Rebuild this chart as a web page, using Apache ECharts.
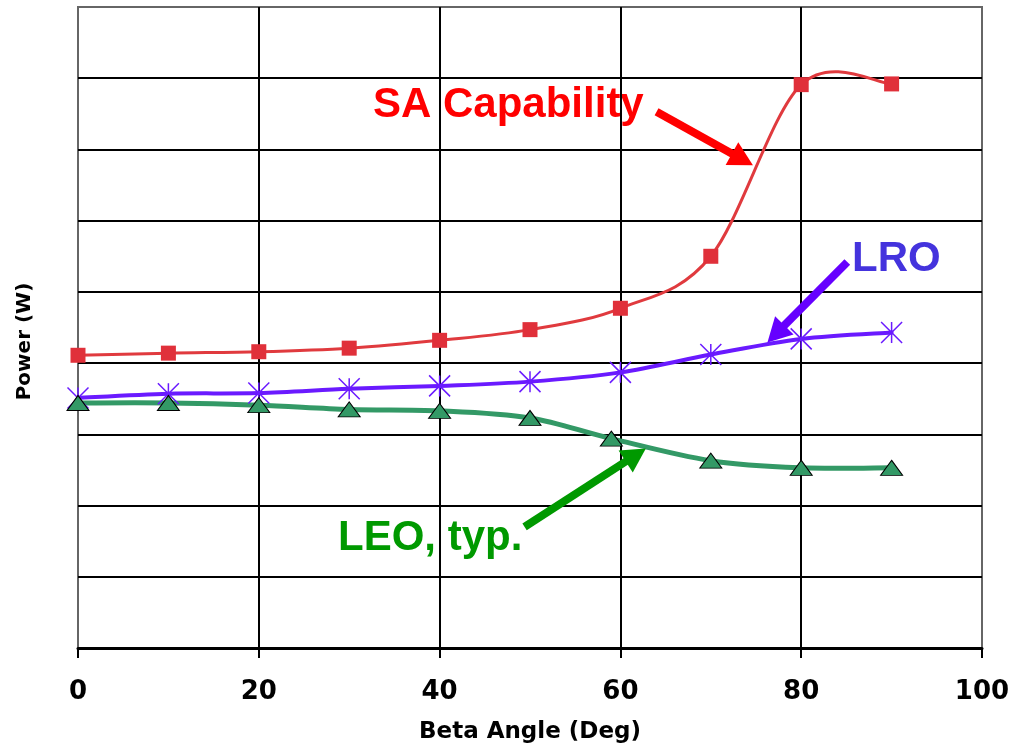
<!DOCTYPE html>
<html>
<head>
<meta charset="utf-8">
<title>Power vs Beta Angle</title>
<script src="https://cdn.jsdelivr.net/npm/echarts@6/dist/echarts.min.js"></script>
<style>
  html, body { margin: 0; padding: 0; background: #fff; }
  #chart { width: 1015px; height: 746px; }
</style>
</head>
<body>
<div id="chart"></div>
<script>
// Beta angle samples (deg)
const betaAngles = [0, 10, 20, 30, 40, 50, 60, 70, 80, 90];
const leoAngles  = [0, 10, 20, 30, 40, 50, 59, 70, 80, 90];

// Power values (W)
const saCapability = [411, 414, 416, 421, 432, 447, 477, 550, 791, 792];
const lroPower     = [351, 357, 358, 364, 368, 374, 387, 412, 434, 443];
const leoPower     = [344, 344, 341, 335, 333, 323, 294, 263, 253, 253];

// X axis tick values
const xTicks = [0, 20, 40, 60, 80, 100];

// Callout arrows: [start, end] in data units (deg, W)
const saArrow  = [[64.0, 753], [73.5, 686]];
const lroArrow = [[85.1, 542], [77.2, 441]];
const leoArrow = [[49.4, 170], [61.7, 271]];

const pairs = (xs, ys) => xs.map((x, i) => [x, ys[i]]);

// Smoothed connecting line: cardinal (Catmull-Rom) Bezier segments in pixel space,
// one segment per data item, positions taken from the axes via api.coord.
function smoothLine(xs, ys, color, width, z) {
  return {
    type: 'custom',
    silent: true,
    z: z,
    data: pairs(xs, ys),
    encode: { x: 0, y: 1 },
    renderItem: function (params, api) {
      const i = params.dataIndex;
      const n = xs.length;
      if (i >= n - 1) return null;
      const p = k => api.coord([xs[Math.max(0, Math.min(n - 1, k))], ys[Math.max(0, Math.min(n - 1, k))]]);
      const p0 = p(i - 1), p1 = p(i), p2 = p(i + 1), p3 = p(i + 2);
      return {
        type: 'bezierCurve',
        shape: {
          x1: p1[0], y1: p1[1],
          cpx1: p1[0] + (p2[0] - p0[0]) / 6, cpy1: p1[1] + (p2[1] - p0[1]) / 6,
          cpx2: p2[0] - (p3[0] - p1[0]) / 6, cpy2: p2[1] - (p3[1] - p1[1]) / 6,
          x2: p2[0], y2: p2[1]
        },
        style: { stroke: color, lineWidth: width, fill: null, lineCap: 'round' }
      };
    }
  };
}

const arrowLine = (seg, color) => ({
  silent: true,
  symbol: ['none', 'triangle'],
  symbolSize: [26, 24],
  label: { show: false },
  lineStyle: { color: color, width: 8, type: 'solid' },
  emphasis: { disabled: true },
  data: [[
    { coord: seg[0], symbol: 'none' },
    { coord: seg[1], symbol: 'triangle', itemStyle: { color: color } }
  ]]
});

const calloutFont = 'bold 42px "Liberation Sans", Arial, sans-serif';

const chart = echarts.init(document.getElementById('chart'), null, { renderer: 'canvas' });

chart.setOption({
  animation: false,
  backgroundColor: '#ffffff',
  grid: {
    left: 78, right: 33, top: 7, bottom: 98,
    outerBoundsMode: 'none',
    show: true, borderColor: '#666666', borderWidth: 2,
    backgroundColor: 'transparent'
  },
  xAxis: {
    type: 'value',
    min: 0, max: 100, interval: 20,
    name: 'Beta Angle (Deg)',
    nameLocation: 'middle',
    nameGap: 73,
    nameTextStyle: { fontFamily: 'DejaVu Sans', fontWeight: 'bold', fontSize: 23, color: '#000' },
    axisLine: { show: true, onZero: false, lineStyle: { color: '#000', width: 3 } },
    axisTick: { show: true, length: 10, lineStyle: { color: '#000', width: 2 } },
    axisLabel: {
      margin: 31,
      fontFamily: 'DejaVu Sans', fontWeight: 'bold', fontSize: 26, color: '#000',
      formatter: v => (xTicks.includes(v) ? String(v) : '')
    },
    splitLine: { show: true, showMinLine: false, showMaxLine: false, lineStyle: { color: '#000', width: 2 } }
  },
  yAxis: {
    type: 'value',
    min: 0, max: 900, interval: 100,
    name: 'Power (W)',
    nameLocation: 'middle',
    nameGap: 43,
    nameTextStyle: {
      fontFamily: 'DejaVu Sans', fontWeight: 'bold', fontSize: 20, color: '#000',
      padding: [0, 28, 0, 0]
    },
    axisLine: { show: false },
    axisTick: { show: false },
    axisLabel: { show: false },
    splitLine: { show: true, showMinLine: false, showMaxLine: false, lineStyle: { color: '#000', width: 2 } }
  },
  series: [
    smoothLine(betaAngles, lroPower, '#6a1aff', 4, 2),
    smoothLine(leoAngles, leoPower, '#339966', 5, 2),
    smoothLine(betaAngles, saCapability, '#e03a3e', 3, 2),
    {
      name: 'SA Capability',
      type: 'scatter',
      data: pairs(betaAngles, saCapability),
      symbol: 'rect',
      symbolSize: 15,
      itemStyle: { color: '#e0303a', opacity: 1 },
      z: 5,
      markLine: arrowLine(saArrow, '#ff0000')
    },
    {
      name: 'LRO',
      type: 'scatter',
      data: pairs(betaAngles, lroPower),
      symbol: 'path://M0 0L10 10M10 0L0 10M5 0L5 10',
      symbolSize: 21,
      itemStyle: { color: 'rgba(0,0,0,0)', borderColor: '#6a1aff', borderWidth: 1.5, opacity: 1 },
      z: 4,
      markLine: arrowLine(lroArrow, '#6600ff')
    },
    {
      name: 'LEO, typ.',
      type: 'scatter',
      data: pairs(leoAngles, leoPower),
      symbol: 'triangle',
      symbolSize: [22, 15],
      itemStyle: { color: '#339966', borderColor: '#000', borderWidth: 1, opacity: 1 },
      z: 6,
      markLine: arrowLine(leoArrow, '#009900')
    }
  ],
  // Callout captions sit underneath the grid lines
  graphic: [
    {
      type: 'text', left: 373, top: 84, z: -1,
      style: { text: 'SA Capability', fill: '#ff0000', font: calloutFont }
    },
    {
      type: 'text', left: 852, top: 238, z: -1,
      style: { text: 'LRO', fill: '#4433dd', font: calloutFont }
    },
    {
      type: 'text', left: 338, top: 517, z: -1,
      style: { text: 'LEO, typ.', fill: '#009900', font: calloutFont }
    }
  ]
});
</script>
</body>
</html>
